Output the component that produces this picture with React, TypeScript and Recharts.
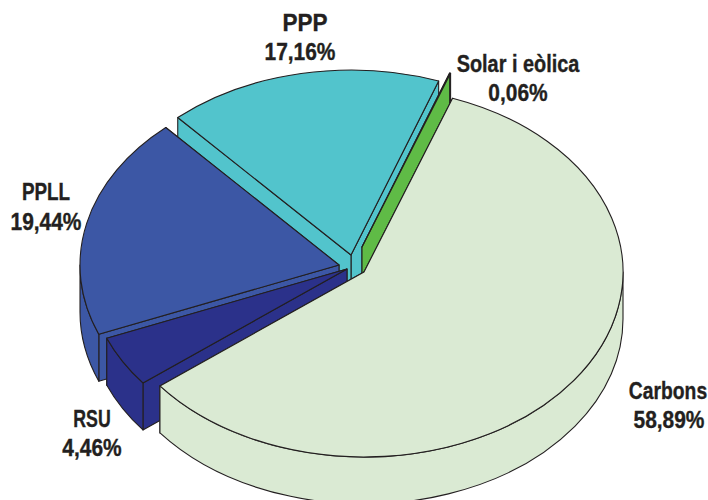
import { Pie, PieChart } from 'recharts';

const sources = ['Solar i eòlica', 'PPP', 'PPLL', 'RSU', 'Carbons'];
const shares = [0.06, 17.16, 19.44, 4.46, 58.89];
const colors = ['#5FBB46', '#52C4CC', '#3C57A5', '#2B318A', '#DAEAD3'];

// painted in two passes so the sliver covers PPP but Carbons covers the sliver
const backSlices = ['PPP', 'PPLL', 'RSU'];
const frontSlices = ['Solar i eòlica', 'Carbons'];

// where each exploded slice ends up, relative to the pie centre
const sliceOffset: Record<string, [number, number]> = {
  'Solar i eòlica': [-2, -25],
  PPP: [-13, -17],
  PPLL: [-25, -7],
  RSU: [-17, -3],
  Carbons: [0, 0],
};

// name x, name baseline, value x, value baseline, horizontal squeeze of the name
const labelPos: Record<string, [number, number, number, number, number]> = {
  'Solar i eòlica': [518, 72, 518, 101, 0.865],
  PPP: [305, 31, 300, 60, 0.98],
  PPLL: [46, 200, 46, 230, 0.82],
  RSU: [92, 427, 92, 456, 0.77],
  Carbons: [668, 399, 669, 428, 0.84],
};

const CX = 364;
const CY = 272;
const RX = 259;
const SQUASH = 0.714;
const DEPTH = 47;
const INK = '#231F20';
const VALUE_SQUEEZE = 0.91;

const rows = sources.map((name, i) => ({ name, value: shares[i], fill: colors[i] }));

function ellipsePoint(x0: number, y0: number, rx: number, ry: number, deg: number) {
  const r = (deg * Math.PI) / 180;
  return [x0 + rx * Math.cos(r), y0 - ry * Math.sin(r)];
}

function Slice3D(props: any) {
  const { cx, cy, outerRadius, startAngle, endAngle, fill } = props;
  const name = props.payload?.name ?? props.name;
  const [dx, dy] = sliceOffset[name];
  const x0 = cx + dx;
  const y0 = cy + dy;
  const rx = outerRadius;
  const ry = outerRadius * SQUASH;
  const pt = (deg: number) => ellipsePoint(x0, y0, rx, ry, deg);
  const [sx, sy] = pt(startAngle);
  const [ex, ey] = pt(endAngle);
  const large = endAngle - startAngle > 180 ? 1 : 0;

  const radial = (px: number, py: number) =>
    `M${x0},${y0} L${px},${py} L${px},${py + DEPTH} L${x0},${y0 + DEPTH} Z`;

  // only the front half of the rim can be seen
  const rims: string[] = [];
  [[180, 360], [540, 720]].forEach(([lo, hi]) => {
    const a0 = Math.max(startAngle, lo);
    const a1 = Math.min(endAngle, hi);
    if (a1 <= a0) return;
    const [x1, y1] = pt(a0);
    const [x2, y2] = pt(a1);
    rims.push(
      `M${x1},${y1} A${rx},${ry} 0 0 0 ${x2},${y2} L${x2},${y2 + DEPTH} A${rx},${ry} 0 0 1 ${x1},${y1 + DEPTH} Z`
    );
  });

  const line = { stroke: INK, strokeWidth: 1.1, strokeLinejoin: 'round' as const };
  return (
    <g>
      <path d={radial(sx, sy)} fill={fill} {...line} />
      <path d={radial(ex, ey)} fill={fill} {...line} />
      {rims.map((d) => (
        <path key={d} d={d} fill={fill} {...line} />
      ))}
      <path
        d={`M${x0},${y0} L${sx},${sy} A${rx},${ry} 0 ${large} 0 ${ex},${ey} Z`}
        fill={fill}
        {...line}
      />
    </g>
  );
}

const sliceShape = (names: string[]) => (props: any) =>
  names.includes(props.payload?.name ?? props.name) ? <Slice3D {...props} /> : <g />;

function SliceLabel(props: any) {
  const name = props.payload?.name ?? props.name;
  const value: number = props.payload?.value ?? props.value;
  const [nx, ny, vx, vy, squeeze] = labelPos[name];
  const style = {
    fontFamily: '"Liberation Sans", Arial, sans-serif',
    fontWeight: 700,
    fontSize: 23,
    stroke: INK,
    strokeWidth: 0.35,
  };
  return (
    <g>
      <text
        transform={`translate(${nx},${ny}) scale(${squeeze},1)`}
        textAnchor="middle"
        fill={INK}
        style={style}
      >
        {name}
      </text>
      <text
        transform={`translate(${vx},${vy}) scale(${VALUE_SQUEEZE},1)`}
        textAnchor="middle"
        fill={INK}
        style={style}
      >
        {value.toFixed(2).replace('.', ',')}%
      </text>
    </g>
  );
}

export default function App() {
  const pieProps = {
    data: rows,
    dataKey: 'value',
    nameKey: 'name',
    cx: CX,
    cy: CY,
    innerRadius: 0,
    outerRadius: RX,
    startAngle: 70,
    endAngle: 430,
    stroke: INK,
    isAnimationActive: false,
  };
  return (
    <div style={{ position: 'absolute', left: 0, top: 0, background: '#fff' }}>
      <PieChart width={708} height={500} margin={{ top: 0, right: 0, bottom: 0, left: 0 }}>
        <Pie {...pieProps} shape={sliceShape(backSlices)} />
        <Pie {...pieProps} shape={sliceShape(frontSlices)} label={SliceLabel} labelLine={false} />
      </PieChart>
    </div>
  );
}
